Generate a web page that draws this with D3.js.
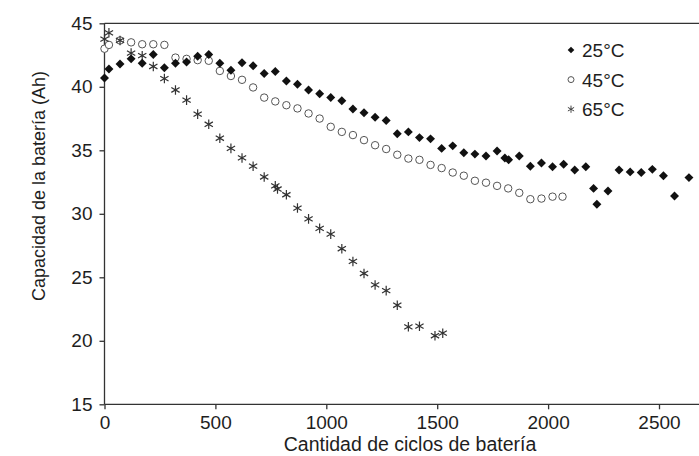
<!DOCTYPE html>
<html>
<head>
<meta charset="utf-8">
<script src="https://cdn.jsdelivr.net/npm/d3@7"></script>
<style>
    body { margin: 0; background: #fff; }
    text { font-family: Arial, "Liberation Sans", sans-serif; fill: #1e1e1e; }
</style>
</head>
<body>
<svg id="vis" width="699" height="456"></svg>
<script>
// cycles / capacity
const cycles25 = [0, 20, 70, 120, 170, 220, 270, 320, 370, 420, 470, 520, 570, 620, 670, 720, 770, 820, 870, 920,
    970, 1020, 1070, 1120, 1170, 1220, 1270, 1320, 1370, 1420, 1470, 1520, 1570, 1620, 1670, 1720, 1770, 1805, 1822, 1870,
    1920, 1970, 2020, 2070, 2120, 2170, 2205, 2220, 2270, 2320, 2370, 2420, 2470, 2520, 2570, 2635]
const cap25 = [40.7, 41.4, 41.8, 42.2, 41.85, 42.55, 41.5, 41.85, 41.95, 42.4, 42.55, 41.85, 41.3, 41.9, 41.65, 41.05, 41.2, 40.45, 40.2, 39.75,
    39.45, 39.15, 38.9, 38.25, 37.95, 37.6, 37.35, 36.3, 36.45, 36.0, 35.9, 35.15, 35.35, 34.8, 34.7, 34.55, 34.95, 34.4, 34.25, 34.55,
    33.75, 34.0, 33.7, 33.9, 33.45, 33.7, 32.0, 30.75, 31.8, 33.45, 33.3, 33.25, 33.5, 33.0, 31.4, 32.85]

const cycles45 = [0, 20, 70, 120, 170, 220, 270, 320, 370, 420, 470, 520, 570, 620, 670, 720, 770, 820, 870, 920,
    970, 1020, 1070, 1120, 1170, 1220, 1270, 1320, 1370, 1420, 1470, 1520, 1570, 1620, 1670, 1720, 1770, 1820, 1870,
    1920, 1970, 2020, 2065]
const cap45 = [43.0, 43.3, 43.65, 43.5, 43.35, 43.35, 43.3, 42.3, 42.2, 42.1, 42.05, 41.25, 40.85, 40.55, 39.95, 39.15, 38.85, 38.55, 38.3, 37.9,
    37.5, 36.85, 36.45, 36.2, 35.8, 35.4, 35.1, 34.65, 34.35, 34.25, 33.85, 33.6, 33.25, 33.0, 32.6, 32.45, 32.2, 32.0, 31.65,
    31.15, 31.2, 31.35, 31.35]

const cycles65 = [0, 20, 70, 120, 170, 220, 270, 320, 370, 420, 470, 520, 570, 620, 670, 720, 770, 780, 820, 870,
    920, 970, 1020, 1070, 1120, 1170, 1220, 1270, 1320, 1370, 1420, 1490, 1525]
const cap65 = [43.75, 44.25, 43.65, 42.65, 42.45, 41.6, 40.65, 39.75, 38.95, 37.85, 37.05, 35.95, 35.15, 34.4, 33.75, 32.9, 32.2, 31.95, 31.5, 30.45,
    29.6, 28.85, 28.4, 27.25, 26.25, 25.3, 24.4, 23.95, 22.8, 21.1, 21.15, 20.4, 20.6]

const seriesNames = ["25°C", "45°C", "65°C"]
const xTicks = [0, 500, 1000, 1500, 2000, 2500]
const yTicks = [15, 20, 25, 30, 35, 40, 45]

let margin = {
    top: 23.3,
    left: 104.5,
    bottom: 51.7
};

let svg = d3.select("#vis");
let plotHeight = 456 - margin.top - margin.bottom;

let xScale = d3.scaleLinear()
    .domain([0, 2700])
    .range([0, 2700 * 0.2218]);

let yScale = d3.scaleLinear()
    .domain([15, 45])
    .range([plotHeight, 0]);

let plot = svg.append("g")
    .attr("id", "plot")
    .attr("transform", "translate(" + margin.left + "," + margin.top + ")");

// top border
plot.append("line")
    .attr("x1", 0).attr("x2", 699 - margin.left)
    .attr("y1", 0).attr("y2", 0)
    .attr("stroke", "#333").attr("stroke-width", 1.3);

let xAxis = d3.axisBottom(xScale).tickValues(xTicks).tickFormat(d3.format("d")).tickSize(5).tickPadding(6);
let yAxis = d3.axisLeft(yScale).tickValues(yTicks).tickFormat(d3.format("d")).tickSize(5).tickPadding(7);

let xGroup = plot.append("g").attr("id", "x-axis")
    .attr("transform", "translate(0," + plotHeight + ")")
    .call(xAxis);
xGroup.select(".domain").attr("d", "M0,0H" + (699 - margin.left));

let yGroup = plot.append("g").attr("id", "y-axis").call(yAxis);
yGroup.select(".domain").attr("d", "M0,0V" + plotHeight);

[xGroup, yGroup].forEach(function(g) {
    g.selectAll(".domain").attr("stroke", "#333").attr("stroke-width", 1.3);
    g.selectAll(".tick line").attr("stroke", "#333").attr("stroke-width", 1.3);
    g.selectAll(".tick text")
        .style("font-size", "19px")
        .style("font-family", "Arial, 'Liberation Sans', sans-serif")
        .attr("fill", "#1e1e1e");
});

// axis titles
svg.append("text")
    .attr("x", 410)
    .attr("y", 451)
    .attr("text-anchor", "middle")
    .style("font-size", "19.5px")
    .text("Cantidad de ciclos de batería");

svg.append("text")
    .attr("transform", "translate(45,186) rotate(-90)")
    .attr("text-anchor", "middle")
    .style("font-size", "18px")
    .text("Capacidad de la batería (Ah)");

// markers
let diamond = d3.symbol().type(d3.symbolSquare).size(40);
let circle = d3.symbol().type(d3.symbolCircle).size(44);
let star = d3.symbol().type(d3.symbolAsterisk).size(64);

function pairs(xs, ys) {
    return xs.map(function(x, i) { return [x, ys[i]]; });
}

let points = plot.append("g").attr("id", "points");

points.selectAll("path.s45")
    .data(pairs(cycles45, cap45))
    .enter().append("path")
    .attr("class", "s45")
    .attr("d", circle)
    .attr("transform", function(d) { return "translate(" + xScale(d[0]) + "," + yScale(d[1]) + ")"; })
    .attr("fill", "#fff")
    .attr("stroke", "#555")
    .attr("stroke-width", 1);

points.selectAll("path.s65")
    .data(pairs(cycles65, cap65))
    .enter().append("path")
    .attr("class", "s65")
    .attr("d", star)
    .attr("transform", function(d) { return "translate(" + xScale(d[0]) + "," + yScale(d[1]) + ")"; })
    .attr("fill", "none")
    .attr("stroke", "#333")
    .attr("stroke-width", 1.2);

points.selectAll("path.s25")
    .data(pairs(cycles25, cap25))
    .enter().append("path")
    .attr("class", "s25")
    .attr("d", diamond)
    .attr("transform", function(d) { return "translate(" + xScale(d[0]) + "," + yScale(d[1]) + ") rotate(45)"; })
    .attr("fill", "#111");

// legend
let legend = svg.append("g").attr("id", "legend").attr("transform", "translate(571,50)");
let legendShapes = [
    d3.symbol().type(d3.symbolSquare).size(22),
    d3.symbol().type(d3.symbolCircle).size(28),
    d3.symbol().type(d3.symbolAsterisk).size(36)
];

seriesNames.forEach(function(name, i) {
    let row = legend.append("g").attr("transform", "translate(0," + (i * 29.6) + ")");
    let mark = row.append("path").attr("d", legendShapes[i]);
    if (i === 0) {
        mark.attr("transform", "rotate(45)").attr("fill", "#111");
    } else if (i === 1) {
        mark.attr("fill", "#fff").attr("stroke", "#555");
    } else {
        mark.attr("fill", "none").attr("stroke", "#444");
    }
    row.append("text")
        .attr("x", 11)
        .attr("y", 7)
        .style("font-size", "19px")
        .text(name);
});
</script>
</body>
</html>
